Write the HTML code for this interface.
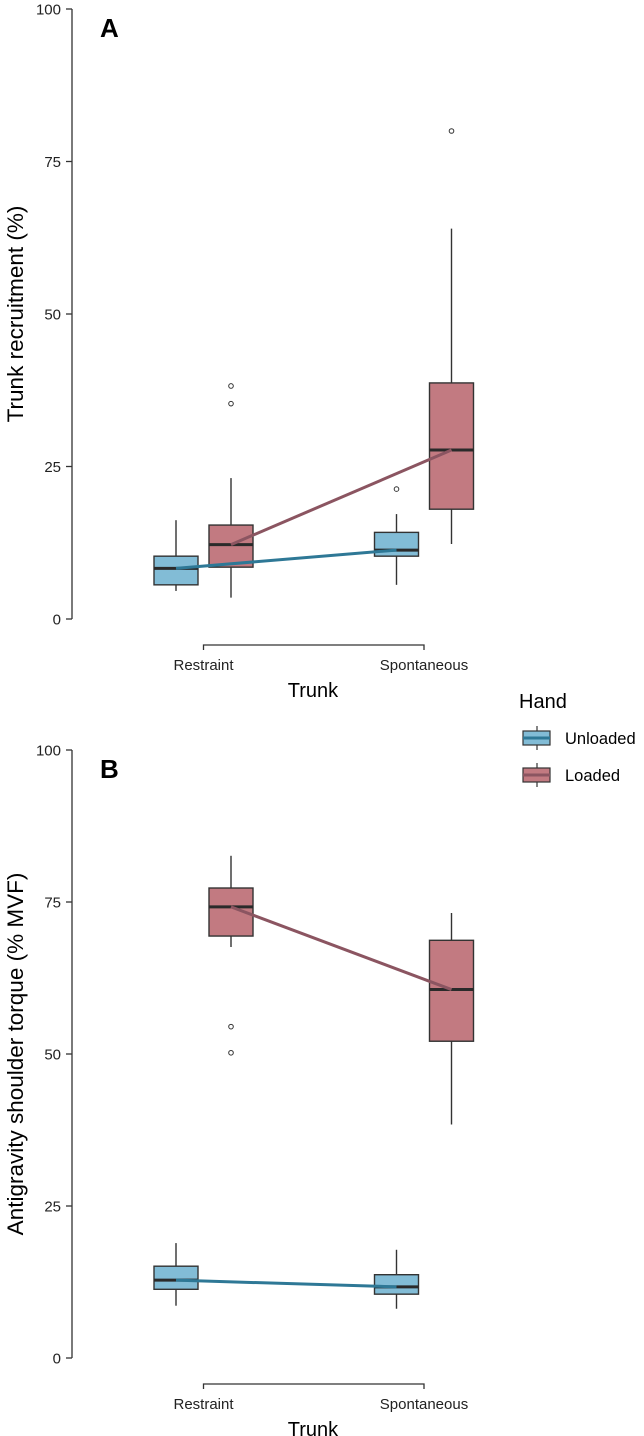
<!DOCTYPE html>
<html><head><meta charset="utf-8"><style>
html,body{margin:0;padding:0;background:#fff;}
svg{display:block;font-family:"Liberation Sans",Arial,sans-serif;}
</style></head><body>
<svg id="chart" width="644" height="1436" viewBox="0 0 644 1436" xmlns="http://www.w3.org/2000/svg"></svg>
<script>
// ---- data ----
const categories = ["Restraint", "Spontaneous"];
const groups = ["Unloaded", "Loaded"];
const yTicks = [0, 25, 50, 75, 100];
// Panel A: [low whisker, Q1, median, Q3, high whisker] per category
const aUnloaded = [[4.6, 5.6, 8.3, 10.3, 16.2], [5.6, 10.3, 11.3, 14.2, 17.2]];
const aLoaded = [[3.5, 8.5, 12.2, 15.4, 23.1], [12.3, 18.0, 27.7, 38.7, 64.0]];
const aUnloadedOut = [[], [21.3]];
const aLoadedOut = [[35.3, 38.2], [80.0]];
// Panel B
const bUnloaded = [[8.6, 11.3, 12.8, 15.1, 18.9], [8.1, 10.5, 11.7, 13.7, 17.8]];
const bLoaded = [[67.6, 69.4, 74.2, 77.3, 82.6], [38.4, 52.1, 60.6, 68.7, 73.2]];
const bUnloadedOut = [[], []];
const bLoadedOut = [[54.5, 50.2], []];

const NS = "http://www.w3.org/2000/svg";
const svg = document.getElementById("chart");
const fills = {Unloaded: "#82bcd6", Loaded: "#c27a81"};
const lineCol = {Unloaded: "#2e7896", Loaded: "#8b5561"};
function mk(tag, attrs, parent) {
  const e = document.createElementNS(NS, tag);
  for (const k in attrs) e.setAttribute(k, attrs[k]);
  (parent || svg).appendChild(e);
  return e;
}
const catX = [203.5, 424];
const dodge = 27.5, boxW = 44;

function panel(top0, yZero, yHundred, letter, letterY, yTitle, titleCY, dataU, dataL, outU, outL, pid) {
  const g = mk("g", {});
  
  
  const y = v => yZero - (yZero - yHundred) * v / 100;
  const ax = mk("line", {x1: 72, x2: 72, y1: y(100), y2: y(0), stroke: "#333", "stroke-width": 1.3}, g);
  
  
  yTicks.forEach(t => {
    mk("line", {x1: 66, x2: 72, y1: y(t), y2: y(t), stroke: "#333", "stroke-width": 1.3}, g);
    const tx = mk("text", {x: 61, y: y(t) + 5.5, "text-anchor": "end", "font-size": 15, fill: "#222"}, g);
    tx.textContent = t;
    
    
  });
  const yt = mk("text", {x: 0, y: 0, "text-anchor": "middle", "font-size": 22.5, fill: "#000", transform: `translate(23,${titleCY}) rotate(-90)`}, g);
  yt.textContent = yTitle;
  
  
  const lt = mk("text", {x: 100, y: letterY, "font-size": 26, "font-weight": "bold", fill: "#000"}, g);
  lt.textContent = letter;
  
  
  const by = yZero + 26;
  const br = mk("path", {d: `M${catX[0]} ${by + 5}V${by}H${catX[1]}V${by + 5}`, fill: "none", stroke: "#333", "stroke-width": 1.3}, g);
  
  
  categories.forEach((c, i) => {
    const t = mk("text", {x: catX[i], y: yZero + 51, "text-anchor": "middle", "font-size": 15, fill: "#222"}, g);
    t.textContent = c;
    
    
  });
  const xt = mk("text", {x: 313, y: yZero + 78, "text-anchor": "middle", "font-size": 20, fill: "#000"}, g);
  xt.textContent = "Trunk";
  
  
  const sets = [["Unloaded", dataU, outU, -dodge], ["Loaded", dataL, outL, dodge]];
  sets.forEach(([name, data, outs, off]) => {
    data.forEach((d, i) => {
      const cx = catX[i] + off;
      const bg = mk("g", {}, g);
      
      
      mk("line", {x1: cx, x2: cx, y1: y(d[0]), y2: y(d[4]), stroke: "#333", "stroke-width": 1.4}, bg);
      mk("rect", {x: cx - boxW / 2, y: y(d[3]), width: boxW, height: y(d[1]) - y(d[3]), fill: fills[name], stroke: "#333", "stroke-width": 1.4}, bg);
      mk("line", {x1: cx - boxW / 2, x2: cx + boxW / 2, y1: y(d[2]), y2: y(d[2]), stroke: "#2a2a2a", "stroke-width": 3}, bg);
      outs[i].forEach(o => {
        const p = mk("circle", {cx: cx, cy: y(o), r: 2.3, fill: "none", stroke: "#333", "stroke-width": 1}, bg);
        
        
      });
    });
  });
  sets.forEach(([name, data, outs, off]) => {
    const ln = mk("line", {x1: catX[0] + off, y1: y(data[0][2]), x2: catX[1] + off, y2: y(data[1][2]), stroke: lineCol[name], "stroke-width": 3}, g);
    
    
  });
}
panel(0, 619, 9, "A", 37, "Trunk recruitment (%)", 314, aUnloaded, aLoaded, aUnloadedOut, aLoadedOut, "a");
panel(0, 1358, 750, "B", 778, "Antigravity shoulder torque (% MVF)", 1054, bUnloaded, bLoaded, bUnloadedOut, bLoadedOut, "b");

const lg = mk("g", {});


const ht = mk("text", {x: 519, y: 708, "font-size": 20, fill: "#000"}, lg);
ht.textContent = "Hand";


groups.forEach((gname, i) => {
  const cy = 738 + i * 37;
  const e = mk("g", {}, lg);
  
  
  mk("line", {x1: 537, x2: 537, y1: cy - 12, y2: cy + 12, stroke: "#333", "stroke-width": 1.2}, e);
  mk("rect", {x: 523, y: cy - 7, width: 27, height: 14, fill: fills[gname], stroke: "#333", "stroke-width": 1.2}, e);
  mk("line", {x1: 523, x2: 550, y1: cy, y2: cy, stroke: lineCol[gname], "stroke-width": 3}, e);
  const t = mk("text", {x: 565, y: cy + 6, "font-size": 16.5, fill: "#000"}, e);
  t.textContent = gname;
});
</script>
</body></html>
